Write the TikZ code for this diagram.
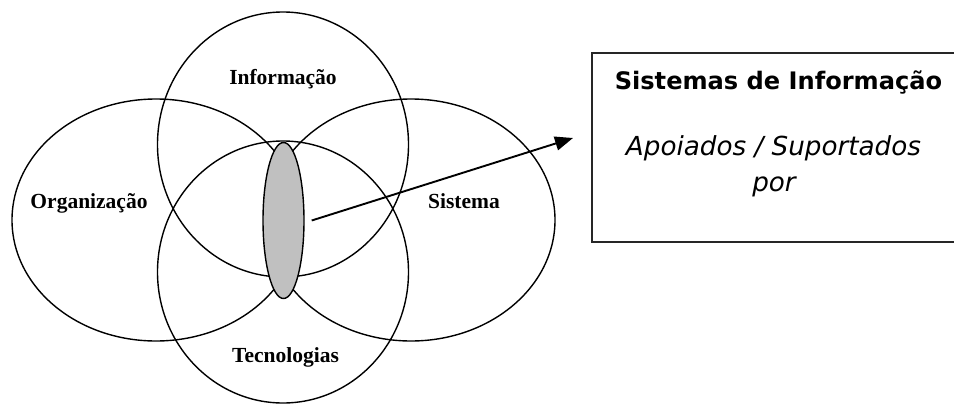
\documentclass[tikz,border=0pt]{standalone}
\usepackage{fontspec}
\setmainfont{Liberation Serif}
\newfontfamily\boxfont{DejaVu Sans}
\usetikzlibrary{shapes.geometric,arrows.meta}
\definecolor{coregray}{HTML}{C0C0C0}
\begin{document}
\begin{tikzpicture}[x=1pt,y=-1pt,
  ring/.style={ellipse, draw=black, line width=1.4pt, inner sep=0pt, outer sep=0pt},
  label/.style={font=\fontsize{21.5}{24}\selectfont\bfseries, anchor=base, inner sep=0pt},
  boxtitle/.style={font=\boxfont\fontsize{24.1}{28}\selectfont\bfseries, anchor=base, inner sep=0pt},
  boxtext/.style={font=\boxfont\fontsize{26.2}{30}\selectfont\itshape, anchor=base, inner sep=0pt},
  link/.style={line width=1.9pt, -{Triangle[length=18pt,width=14pt]}}]
  \useasboundingbox (0,0) rectangle (954,405);
  \clip (0,0) rectangle (954,405);

  % four overlapping domains
  \node[ring, minimum width=288pt, minimum height=242pt] (org) at (156,220) {};
  \node[ring, minimum width=288pt, minimum height=242pt] (sis) at (411,220) {};
  \node[ring, minimum width=251pt, minimum height=265pt] (inf) at (283,144.5) {};
  \node[ring, minimum width=251pt, minimum height=262pt] (tec) at (283,272) {};

  % common intersection
  \node[ellipse, draw=black, line width=1.4pt, fill=coregray, inner sep=0pt,
        minimum width=41pt, minimum height=156pt] (core) at (283.5,220.5) {};

  % labels of the domains
  \node[label] (linf) at (283,84) {Informação};
  \node[label] (lorg) at (89,208) {Organização};
  \node[label] (lsis) at (464,208) {Sistema};
  \node[label] (ltec) at (285.5,362) {Tecnologias};

  % open box on the right
  \coordinate (btr) at (975,53);
  \coordinate (btl) at (592,53);
  \coordinate (bbl) at (592,242);
  \coordinate (bbr) at (975,242);
  \draw[line width=1.6pt, draw=black!85] (btr) -- (btl) -- (bbl) -- (bbr);

  \node[boxtitle] (title) at (778.5,89) {Sistemas de Informação};
  \node[boxtext] (sub1) at (773.5,155) {Apoiados / Suportados};
  \node[boxtext] (sub2) at (774,191) {por};

  % pointer from the intersection to the box
  \coordinate (tip) at (573,138);
  \draw[link] ([xshift=7pt]core.east) -- (tip);
\end{tikzpicture}
\end{document}
